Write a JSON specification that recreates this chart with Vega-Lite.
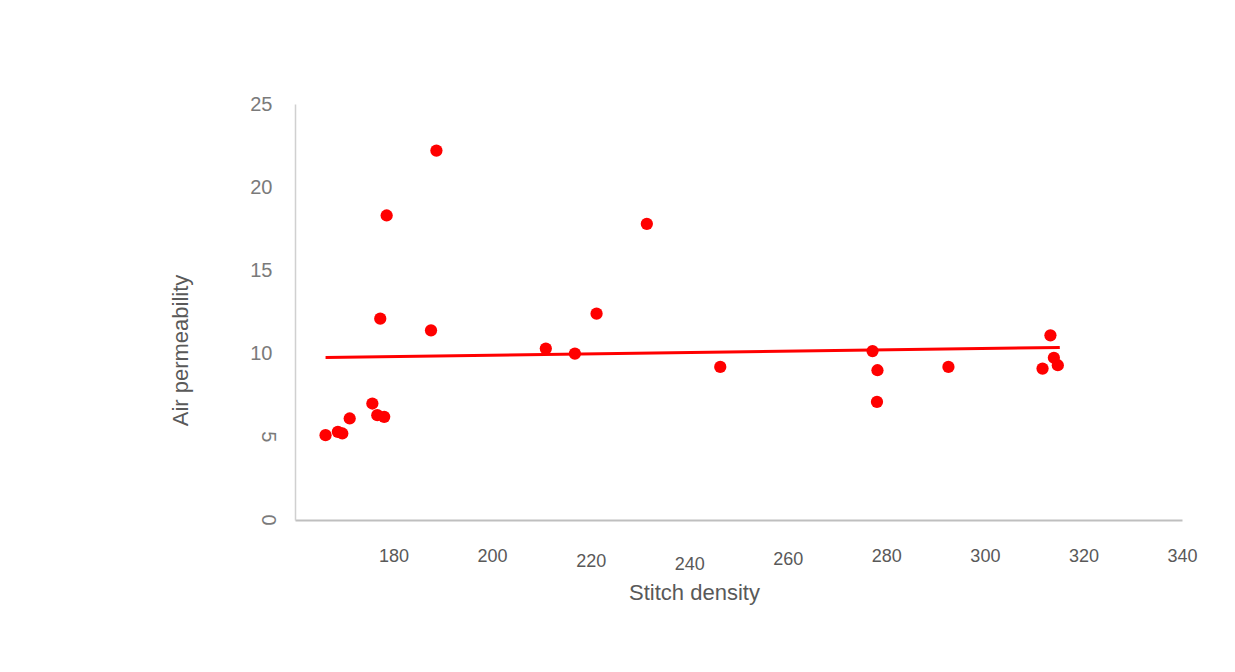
{
  "$schema": "https://vega.github.io/schema/vega-lite/v6.json",
  "width": 887,
  "height": 416,
  "autosize": {"type": "none"},
  "padding": {"left": 295, "top": 104, "right": 53, "bottom": 152},
  "background": "white",
  "config": {"view": {"stroke": null}, "font": "Liberation Sans"},
  "layer": [
    {
      "data": {"values": [
        {"stitch_density": 166.2, "fit": 9.77},
        {"stitch_density": 315.2, "fit": 10.37}
      ]},
      "mark": {"type": "line", "color": "#ff0000", "strokeWidth": 3},
      "encoding": {
        "x": {"field": "stitch_density", "type": "quantitative"},
        "y": {"field": "fit", "type": "quantitative"}
      }
    },
    {
      "data": {"values": [
        {"tick": 0, "label": "0"},
        {"tick": 5, "label": "5"}
      ]},
      "mark": {"type": "text", "angle": 90, "align": "center", "baseline": "middle", "dy": 27, "font": "Liberation Sans", "fontSize": 20, "color": "#7a7a7a"},
      "encoding": {
        "x": {"datum": 160, "type": "quantitative"},
        "y": {"field": "tick", "type": "quantitative"},
        "text": {"field": "label"}
      }
    },
    {
      "data": {"values": [
        {"stitch_density": 166.2, "air_permeability": 5.1},
        {"stitch_density": 168.7, "air_permeability": 5.3},
        {"stitch_density": 169.6, "air_permeability": 5.2},
        {"stitch_density": 171.1, "air_permeability": 6.1},
        {"stitch_density": 175.7, "air_permeability": 7.0},
        {"stitch_density": 176.7, "air_permeability": 6.3},
        {"stitch_density": 178.1, "air_permeability": 6.2},
        {"stitch_density": 177.3, "air_permeability": 12.1},
        {"stitch_density": 178.6, "air_permeability": 18.3},
        {"stitch_density": 187.6, "air_permeability": 11.4},
        {"stitch_density": 188.7, "air_permeability": 22.2},
        {"stitch_density": 210.9, "air_permeability": 10.3},
        {"stitch_density": 216.8, "air_permeability": 10.0},
        {"stitch_density": 221.2, "air_permeability": 12.4},
        {"stitch_density": 231.4, "air_permeability": 17.8},
        {"stitch_density": 246.3, "air_permeability": 9.2},
        {"stitch_density": 277.2, "air_permeability": 10.15},
        {"stitch_density": 278.2, "air_permeability": 9.0},
        {"stitch_density": 278.1, "air_permeability": 7.1},
        {"stitch_density": 292.6, "air_permeability": 9.2},
        {"stitch_density": 311.7, "air_permeability": 9.1},
        {"stitch_density": 313.3, "air_permeability": 11.1},
        {"stitch_density": 314.0, "air_permeability": 9.75},
        {"stitch_density": 314.8, "air_permeability": 9.3}
      ]},
      "mark": {"type": "circle", "size": 150, "opacity": 1, "color": "#ff0000"},
      "encoding": {
        "x": {
          "field": "stitch_density",
          "type": "quantitative",
          "scale": {"domain": [160, 340], "nice": false, "zero": false},
          "axis": {
            "title": "Stitch density",
            "values": [180, 200, 220, 240, 260, 280, 300, 320, 340],
            "grid": false,
            "ticks": false,
            "domainColor": "#bfbfbf",
            "domainWidth": 2,
            "labelFont": "Liberation Sans",
            "labelFontSize": 18,
            "labelColor": "#595959",
            "labelPadding": {
              "condition": [
                {"test": "datum.value == 240", "value": 35},
                {"test": "datum.value == 220", "value": 32},
                {"test": "datum.value == 260", "value": 30}
              ],
              "value": 27
            },
            "labelOverlap": false,
            "labelFlush": false,
            "titleFont": "Liberation Sans",
            "titleFontSize": 22,
            "titleFontWeight": "normal",
            "titleColor": "#595959",
            "titleX": 399,
            "titleY": 72,
            "titleAlign": "center",
            "titleBaseline": "middle"
          }
        },
        "y": {
          "field": "air_permeability",
          "type": "quantitative",
          "scale": {"domain": [0, 25], "nice": false},
          "axis": {
            "title": "Air permeability",
            "values": [10, 15, 20, 25],
            "grid": false,
            "ticks": false,
            "domainColor": "#d0d0d0",
            "domainWidth": 1.5,
            "labelFont": "Liberation Sans",
            "labelFontSize": 20,
            "labelColor": "#7a7a7a",
            "labelOverlap": false,
            "labelFlush": false,
            "labelPadding": 23,
            "titleFont": "Liberation Sans",
            "titleFontSize": 22,
            "titleFontWeight": "normal",
            "titleColor": "#595959",
            "titleX": -115,
            "titleY": 246,
            "titleAlign": "center",
            "titleBaseline": "middle"
          }
        }
      }
    }
  ]
}
